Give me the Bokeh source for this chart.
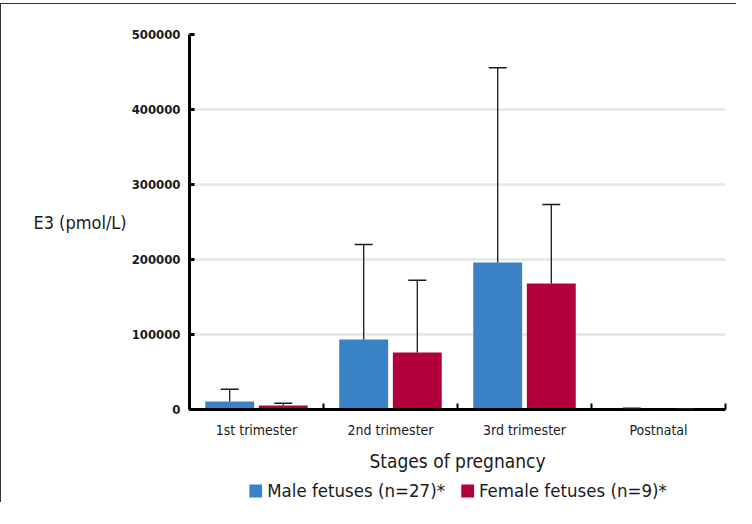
from bokeh.plotting import figure
from bokeh.layouts import column
from bokeh.models import (ColumnDataSource, Whisker, TeeHead, FixedTicker, Legend,
                          LegendItem, Range1d)
from bokeh.embed import file_html
from bokeh.resources import INLINE

stages = ["1st trimester", "2nd trimester", "3rd trimester", "Postnatal"]
male_mean = [10700, 93300, 196000, 600]
male_err = [16300, 126700, 259600, 900]
female_mean = [5300, 76000, 168000, 400]
female_err = [3100, 96400, 105300, 700]
y_ticks = [0, 100000, 200000, 300000, 400000, 500000]
series_names = ["Male fetuses (n=27)*", "Female fetuses (n=9)*"]
series_colors = ["#3a82c5", "#b1003a"]

FONT = "'DejaVu Sans Condensed', Roboto, sans-serif"
TXT = "#1a1a1a"

centers = [i + 0.5 for i in range(len(stages))]
bounds = [float(i) for i in range(len(stages) + 1)]

p = figure(width=735, height=474, output_backend="svg", toolbar_location=None,
           x_range=Range1d(0, len(stages)), y_range=Range1d(0, 500000),
           min_border_left=188, min_border_right=11, min_border_top=30,
           min_border_bottom=69)
p.outline_line_color = None
p.background_fill_color = "white"
p.border_fill_color = "white"

renderers = []
for k, (means, errs) in enumerate([(male_mean, male_err), (female_mean, female_err)]):
    off = -0.2 if k == 0 else 0.2
    xs = [c + off for c in centers]
    src = ColumnDataSource(dict(x=xs, top=means,
                                upper=[m + e for m, e in zip(means, errs)]))
    r = p.vbar(x="x", top="top", width=0.365, bottom=0, source=src,
               fill_color=series_colors[k], line_color=None)
    renderers.append(r)
    w = Whisker(base="x", lower="top", upper="upper", source=src,
                line_color=TXT, line_width=1.3,
                upper_head=TeeHead(size=18, line_color=TXT, line_width=1.6),
                lower_head=None, level="overlay")
    p.add_layout(w)

# grid
p.xgrid.grid_line_color = None
p.ygrid.grid_line_color = "#e6e6e6"
p.ygrid.grid_line_width = 2.5
p.ygrid.ticker = FixedTicker(ticks=y_ticks)

# y axis
p.yaxis.ticker = FixedTicker(ticks=y_ticks)
p.yaxis.axis_line_width = 3
p.yaxis.axis_line_color = "black"
p.yaxis.major_tick_in = 5
p.yaxis.major_tick_out = 0
p.yaxis.major_tick_line_width = 3
p.yaxis.minor_tick_line_color = None
p.yaxis.major_label_text_font = FONT
p.yaxis.major_label_text_font_style = "bold"
p.yaxis.major_label_text_font_size = "13px"
p.yaxis.major_label_text_color = TXT
p.yaxis.major_label_standoff = 9
p.yaxis.formatter.use_scientific = False
p.yaxis.axis_label = "E3 (pmol/L)"
p.yaxis.axis_label_orientation = "horizontal"
p.yaxis.axis_label_text_font = FONT
p.yaxis.axis_label_text_font_style = "normal"
p.yaxis.axis_label_text_font_size = "18px"
p.yaxis.axis_label_text_color = TXT
p.yaxis.axis_label_standoff = 2

# x axis
p.xaxis.ticker = FixedTicker(ticks=centers, minor_ticks=bounds)
p.xaxis.major_label_overrides = {c: s for c, s in zip(centers, stages)}
p.xaxis.axis_line_width = 3
p.xaxis.axis_line_color = "black"
p.xaxis.major_tick_line_color = None
p.xaxis.major_tick_in = 0
p.xaxis.major_tick_out = 0
p.xaxis.minor_tick_in = 6
p.xaxis.minor_tick_out = 0
p.xaxis.minor_tick_line_width = 2
p.xaxis.minor_tick_line_color = "black"
p.xaxis.major_label_text_font = FONT
p.xaxis.major_label_text_font_size = "14px"
p.xaxis.major_label_text_color = TXT
p.xaxis.major_label_standoff = 12
p.xaxis.axis_label = "Stages of pregnancy"
p.xaxis.axis_label_text_font = FONT
p.xaxis.axis_label_text_font_style = "normal"
p.xaxis.axis_label_text_font_size = "19px"
p.xaxis.axis_label_text_color = TXT
p.xaxis.axis_label_standoff = 9

# legend strip (its frame aligned with the main frame); the glyphs used for
# the legend swatches lie outside its visible range
lg = figure(width=735, height=24, output_backend="svg", toolbar_location=None,
            x_axis_location=None, y_axis_location=None,
            x_range=Range1d(0, 1), y_range=Range1d(0, 1),
            min_border_left=188, min_border_right=11, min_border_top=0,
            min_border_bottom=0)
lg.outline_line_color = None
lg.xgrid.grid_line_color = None
lg.ygrid.grid_line_color = None
lg.border_fill_color = "white"
lg_items = []
for k in range(2):
    gsrc = ColumnDataSource(dict(x=[5.0], top=[0.0]))
    gr = lg.vbar(x="x", top="top", width=0.1, source=gsrc,
                 fill_color=series_colors[k], line_color=None)
    lg_items.append(LegendItem(label=series_names[k], renderers=[gr]))
legend = Legend(items=lg_items, orientation="horizontal", location="center",
                label_text_font=FONT, label_text_font_size="18.5px",
                label_text_color=TXT, glyph_width=16, glyph_height=16,
                label_standoff=4, spacing=14, padding=0, margin=0,
                border_line_color=None, background_fill_alpha=0)
lg.add_layout(legend, "center")

layout = column(p, lg, spacing=0)
layout.styles = {"margin-top": "3px", "border-top": "1px solid #333",
                 "border-left": "1px solid #333"}

open("out.html", "w").write(file_html(layout, INLINE))
